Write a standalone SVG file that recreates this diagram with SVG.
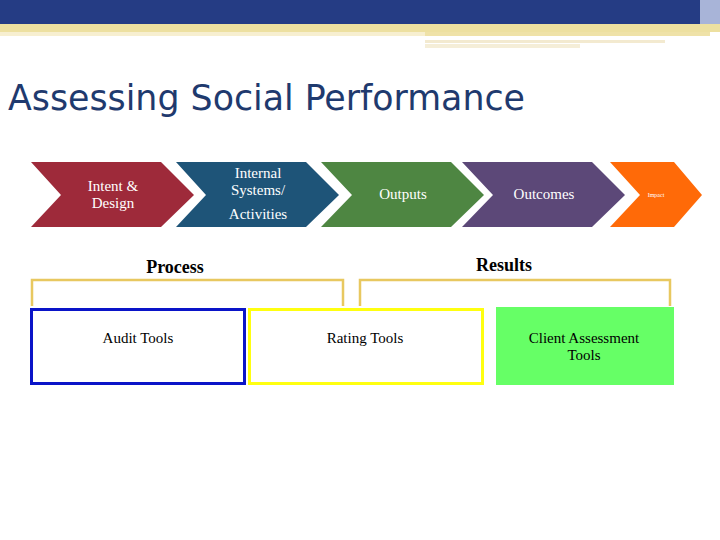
<svg xmlns="http://www.w3.org/2000/svg" width="720" height="540" viewBox="0 0 720 540">
<style>
.ct{font-family:"Liberation Serif",serif;font-size:15px;fill:#fff;text-anchor:middle}
.lb{font-family:"Liberation Serif",serif;font-size:15px;fill:#000;text-anchor:middle}
.hd{font-family:"Liberation Serif",serif;font-size:18px;font-weight:bold;fill:#000;text-anchor:middle}
.br{fill:none;stroke:#e8c860;stroke-width:2.5}
</style>
<rect x="0" y="0" width="720" height="540" fill="#fff"/>
<rect x="0" y="0" width="720" height="24" fill="#253c84"/>
<rect x="700" y="0" width="20" height="24" fill="#a8b4d8"/>
<rect x="0" y="24" width="720" height="8" fill="#ede0a0"/>
<rect x="0" y="32" width="425" height="4" fill="#f7efd0"/>
<rect x="425" y="32" width="285" height="4" fill="#efe2a8"/>
<rect x="425" y="40" width="240" height="3" fill="#f3ead0"/>
<rect x="425" y="44" width="155" height="4" fill="#f5eed8"/>
<text x="8" y="110" font-family="DejaVu Sans Condensed,DejaVu Sans,sans-serif" font-size="36" fill="#1f3a6e" textLength="517" lengthAdjust="spacingAndGlyphs">Assessing Social Performance</text>
<g id="n1"><polygon points="31,162 161,162 194,195 161,227 31,227 61,195" fill="#9e2a3a"/><text class="ct" x="113" y="191">Intent &amp;</text><text class="ct" x="113" y="208">Design</text></g>
<g id="n2"><polygon points="176,162 306,162 339,195 306,227 176,227 206,195" fill="#1e5478"/><text class="ct" x="258" y="178">Internal</text><text class="ct" x="258" y="195">Systems/</text><text class="ct" x="258" y="219">Activities</text></g>
<g id="n3"><polygon points="321,162 451,162 484,195 451,227 321,227 352,195" fill="#4e8642"/><text class="ct" x="403" y="199">Outputs</text></g>
<g id="n4"><polygon points="462,162 592,162 625,195 592,227 462,227 493,195" fill="#5c4878"/><text class="ct" x="544" y="199">Outcomes</text></g>
<g id="n5"><polygon points="610,162 674,162 702,195 674,227 610,227 640,195" fill="#ff6a08"/><text x="656" y="197" font-family="Liberation Serif,serif" font-size="6" fill="#fff" text-anchor="middle">Impact</text></g>
<g id="connectors">
<polyline class="br" points="32,306 32,280 343,280 343,306"/>
<polyline class="br" points="360,306 360,280 670,280 670,306"/>
</g>
<text class="hd" x="175" y="273">Process</text>
<text class="hd" x="504" y="271">Results</text>
<g id="audit"><rect x="31.5" y="309.5" width="213" height="74" fill="#fff" stroke="#0a14c8" stroke-width="3"/><text class="lb" x="138" y="343">Audit Tools</text></g>
<g id="rating"><rect x="249.5" y="309.5" width="233" height="74" fill="#fff" stroke="#ffff10" stroke-width="3"/><text class="lb" x="365" y="343">Rating Tools</text></g>
<g id="client"><rect x="496" y="307" width="178" height="78" fill="#66ff66"/><text class="lb" x="584" y="343">Client Assessment</text><text class="lb" x="584" y="360">Tools</text></g>
</svg>
